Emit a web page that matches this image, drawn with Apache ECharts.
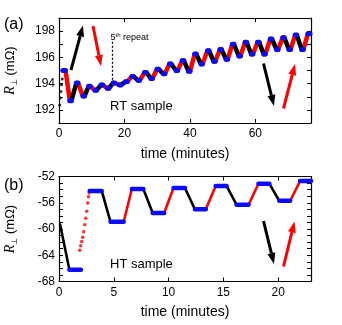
<!DOCTYPE html>
<html>
<head>
<meta charset="utf-8">
<title>RT / HT sample</title>
<script src="https://cdn.jsdelivr.net/npm/echarts@6.0.0/dist/echarts.min.js"></script>
<style>
  html, body { margin: 0; padding: 0; background: #fff; }
  #main { width: 342px; height: 325px; }
</style>
</head>
<body>
<div id="main"></div>
<script>
// (a) RT sample - blue plateaus: start / end time (minutes) and level (mΩ)
var rtStart = [0.05, 1.2, 3.3, 5.3, 7.3, 9.05, 10.95, 12.85, 14.75, 16.55, 18.45, 20.35, 22.25, 24.15, 26.15, 28.05, 29.95,
  31.85, 33.75, 35.75, 37.65, 39.55, 41.45, 43.35, 45.35, 47.25, 49.15, 51.05, 52.95, 54.95, 56.85, 58.75, 60.65, 62.55,
  64.55, 66.45, 68.35, 70.25, 72.15, 74.15, 76.05];
var rtEnd = [0.2, 2.0, 3.8, 5.8, 7.8, 9.55, 11.45, 13.35, 15.25, 17.05, 18.95, 20.85, 22.75, 24.65, 26.65, 28.55, 30.45,
  32.35, 34.25, 36.25, 38.15, 40.05, 41.95, 43.85, 45.85, 47.75, 49.65, 51.55, 53.45, 55.45, 57.35, 59.25, 61.15, 63.05,
  65.05, 66.95, 68.85, 70.75, 72.65, 74.65, 76.7];
var rtLevel = [192.2, 195.0, 192.7, 194.05, 193.05, 193.8, 193.5, 193.9, 193.65, 194.05, 193.9, 194.15, 194.55, 194.25, 194.85,
  194.4, 195.1, 194.75, 195.5, 195.0, 195.75, 194.95, 196.25, 195.5, 196.5, 195.7, 196.6, 195.85, 197.0, 196.1, 197.15,
  196.25, 197.15, 196.25, 197.4, 196.6, 197.5, 196.6, 197.7, 196.6, 197.8];
// sparse black points of the very first rise in (a)
var rtRiseT = [0.2, 0.4, 0.6, 0.8, 1.0];
var rtRiseV = [192.37, 192.9, 193.4, 193.92, 194.36];
var rtRepeatT = 16.3;          // "5th repeat" marker
var rtRepeatV = [194.3, 197.3];

// (b) HT sample
var htStart = [0.0, 0.95, 2.8, 4.7, 6.65, 8.55, 10.45, 12.4, 14.3, 16.2, 18.2, 20.1, 22.0];
var htEnd = [0.05, 2.0, 3.9, 5.9, 7.7, 9.6, 11.5, 13.4, 15.3, 17.3, 19.2, 21.1, 23.0];
var htLevel = [-56.4, -66.2, -54.2, -58.9, -53.9, -57.55, -53.75, -57.0, -53.45, -56.3, -53.1, -55.7, -52.7];
var htDropT = [0.1, 0.95];
var htDropV = [-59.3, -66.2];
var htJumpT = [1.89, 1.98, 2.07, 2.16, 2.25, 2.35, 2.44, 2.53, 2.62, 2.69, 2.75];
var htJumpV = [-63.25, -62.55, -61.9, -61.25, -60.4, -59.35, -58.35, -57.3, -56.05, -55.1, -54.5];

// tick labels
var rtXLabels = [0, 20, 40, 60];
var rtYLabels = [192, 194, 196, 198];
var htXLabels = [0, 5, 10, 15, 20];
var htYLabels = [-68, -64, -60, -56, -52];

var font = 'Liberation Sans, Arial, sans-serif';
var BLUE = '#0a0aff', RED = '#ff0000', BLACK = '#000000';

function pairs(t, v) {
  var d = [];
  for (var i = 0; i < t.length; i++) d.push([t[i], v[i]]);
  return d;
}
function plateauData(s, e, v) {
  var d = [];
  for (var i = 0; i < s.length; i++) d.push([s[i], v[i]], [e[i], v[i]], '-');
  return d;
}
// ramps join plateau i-1 to plateau i; parity picks black (odd) or red (even)
function rampData(s, e, v, from, parity) {
  var d = [];
  for (var i = from; i < s.length; i++) {
    if (i % 2 !== parity) continue;
    d.push([e[i - 1], v[i - 1]], [s[i], v[i]], '-');
  }
  return d;
}

function xAxis(grid, max, interval, labels, top) {
  return {
    type: 'value', gridIndex: grid, min: 0, max: max, interval: interval,
    position: top ? 'top' : 'bottom',
    axisLine: { onZero: false, lineStyle: { color: '#000', width: 1.2 } },
    axisTick: { inside: true, length: 4, lineStyle: { color: '#000', width: 1 } },
    axisLabel: {
      show: !top, color: '#000', fontSize: 12, fontFamily: font, margin: 5,
      showMaxLabel: false,
      formatter: function (v) { return labels.indexOf(v) >= 0 ? String(v) : ''; }
    },
    splitLine: { show: false },
    name: top ? '' : 'time (minutes)', nameLocation: 'middle', nameGap: 24,
    nameTextStyle: { color: '#000', fontSize: 14, fontFamily: font }
  };
}
function yAxis(grid, min, max, labels, right) {
  return {
    type: 'value', gridIndex: grid, min: min, max: max, interval: 1,
    position: right ? 'right' : 'left',
    axisLine: { onZero: false, lineStyle: { color: '#000', width: 1.2 } },
    axisTick: { inside: true, length: 4, lineStyle: { color: '#000', width: 1 } },
    axisLabel: {
      show: !right, color: '#000', fontSize: 12, fontFamily: font, margin: 4,
      formatter: function (v) { return labels.indexOf(v) >= 0 ? String(v) : ''; }
    },
    splitLine: { show: false },
    name: right ? '' : '{i|R}{s|⊥}{n| (mΩ)}', nameLocation: 'middle', nameGap: 40, nameRotate: 90,
    nameTextStyle: {
      rich: {
        i: { fontFamily: 'Liberation Serif', fontStyle: 'italic', fontSize: 14, color: '#000', lineHeight: 18 },
        s: { fontFamily: font, fontSize: 8, color: '#000', verticalAlign: 'bottom' },
        n: { fontFamily: font, fontSize: 13, color: '#000', lineHeight: 18 }
      }
    }
  };
}

function arrow(x1, y1, x2, y2, color) {
  var dx = x2 - x1, dy = y2 - y1, len = Math.sqrt(dx * dx + dy * dy);
  var ux = dx / len, uy = dy / len, hl = 11, hw = 4;
  var bx = x2 - ux * hl, by = y2 - uy * hl;
  return [
    { type: 'line', shape: { x1: x1, y1: y1, x2: bx, y2: by }, style: { stroke: color, lineWidth: 3 } },
    { type: 'polygon', shape: { points: [[x2, y2], [bx - uy * hw, by + ux * hw], [bx + uy * hw, by - ux * hw]] }, style: { fill: color } }
  ];
}
function label(x, y, text, size) {
  return { type: 'text', x: x, y: y, style: { text: text, fill: '#000', font: size + 'px ' + font, textVerticalAlign: 'middle' } };
}

var chart = echarts.init(document.getElementById('main'));

var lineSeries = function (xi, data, color, width) {
  return {
    type: 'line', xAxisIndex: xi, yAxisIndex: xi, data: data, symbol: 'none',
    lineStyle: { color: color, width: width, cap: 'round', join: 'round' },
    connectNulls: false, silent: true, animation: false
  };
};

var blueA = lineSeries(0, plateauData(rtStart, rtEnd, rtLevel), BLUE, 5);
blueA.markLine = {
  silent: true, symbol: 'none', label: { show: false },
  lineStyle: { color: '#000', width: 1.3, type: [2, 2] },
  data: [[{ coord: [rtRepeatT, rtRepeatV[0]] }, { coord: [rtRepeatT, rtRepeatV[1]] }]]
};

var graphics = []
  .concat(arrow(71, 70, 83, 25.5, BLACK))
  .concat(arrow(93, 26, 101, 66, RED))
  .concat(arrow(263.5, 63.5, 274, 106, BLACK))
  .concat(arrow(283.5, 108.5, 295, 64, RED))
  .concat(arrow(263.5, 221, 274, 264, BLACK))
  .concat(arrow(283.5, 266.5, 294.5, 221.5, RED));
graphics.push(label(4, 25, '(a)', 16));
graphics.push(label(4, 185.5, '(b)', 16));
graphics.push(label(110, 106, 'RT sample', 13));
graphics.push(label(110, 264, 'HT sample', 13));
graphics.push({
  type: 'text', x: 110.5, y: 38,
  style: {
    text: '{a|5}{b|th}{a| repeat}', textVerticalAlign: 'middle', fill: '#000',
    rich: { a: { fontSize: 9, fontFamily: font, lineHeight: 11 }, b: { fontSize: 6, fontFamily: font, verticalAlign: 'top' } }
  }
});

var option = {
  animation: false,
  backgroundColor: '#fff',
  grid: [
    { left: 59, top: 18, width: 252, height: 105, outerBoundsMode: 'none', containLabel: false },
    { left: 59, top: 176.5, width: 252, height: 105, outerBoundsMode: 'none', containLabel: false }
  ],
  xAxis: [
    xAxis(0, 77, 20, rtXLabels, false),
    xAxis(1, 23, 5, htXLabels, false),
    xAxis(0, 77, 20, rtXLabels, true),
    xAxis(1, 23, 5, htXLabels, true)
  ],
  yAxis: [
    yAxis(0, 191, 199, rtYLabels, false),
    yAxis(1, -68, -52, htYLabels, false),
    yAxis(0, 191, 199, rtYLabels, true),
    yAxis(1, -68, -52, htYLabels, true)
  ],
  series: [
    lineSeries(0, rampData(rtStart, rtEnd, rtLevel, 2, 0), RED, 4.5),
    lineSeries(0, rampData(rtStart, rtEnd, rtLevel, 2, 1), BLACK, 4.5),
    {
      type: 'scatter', xAxisIndex: 0, yAxisIndex: 0, data: pairs(rtRiseT, rtRiseV),
      symbolSize: 3, itemStyle: { color: BLACK }, silent: true
    },
    blueA,
    lineSeries(1, rampData(htStart, htEnd, htLevel, 3, 0), RED, 2.6),
    lineSeries(1, rampData(htStart, htEnd, htLevel, 3, 1), BLACK, 2.6),
    lineSeries(1, pairs(htDropT, htDropV), BLACK, 2.6),
    {
      type: 'scatter', xAxisIndex: 1, yAxisIndex: 1, data: pairs(htJumpT, htJumpV),
      symbolSize: 3.5, itemStyle: { color: RED }, silent: true
    },
    lineSeries(1, plateauData(htStart, htEnd, htLevel), BLUE, 4.5)
  ],
  graphic: graphics
};
chart.setOption(option);
</script>
</body>
</html>
